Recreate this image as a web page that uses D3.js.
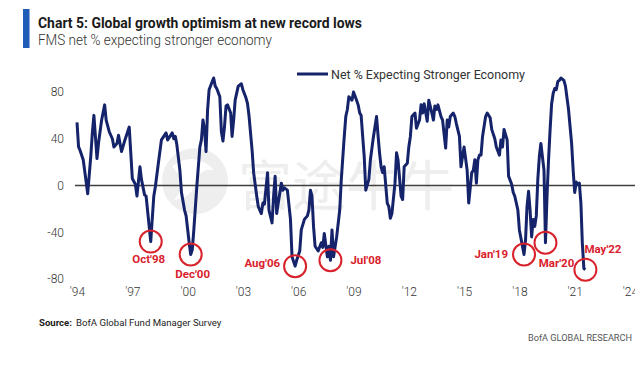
<!DOCTYPE html>
<html>
<head>
<meta charset="utf-8">
<script src="https://cdn.jsdelivr.net/npm/d3@7"></script>
<style>
  body { margin: 0; background: #fff; }
  svg { display: block; font-family: Roboto, "Open Sans", sans-serif; }
</style>
</head>
<body>
<div id="chart"></div>
<script>
// FMS net % expecting stronger economy (month, value)
var months = [
  "1994-10","1994-11","1994-12","1995-02","1995-03","1995-05","1995-07","1995-08","1995-09","1995-11","1995-12",
  "1996-02","1996-04","1996-05","1996-07","1996-09","1996-10","1996-12","1997-01","1997-03","1997-05","1997-07",
  "1997-08","1997-10","1997-12","1998-01","1998-03","1998-04","1998-06","1998-07","1998-10","1998-12","1999-01",
  "1999-03","1999-05","1999-08","1999-09","1999-12","2000-01","2000-02","2000-03","2000-05","2000-06","2000-08",
  "2000-09","2000-11","2000-12","2001-01","2001-02","2001-04","2001-06","2001-07","2001-08","2001-09","2001-10",
  "2001-11","2001-12","2002-02","2002-03","2002-04","2002-05","2002-07","2002-08","2002-09","2002-10","2002-11",
  "2002-12","2003-02","2003-03","2003-04","2003-05","2003-07","2003-09","2003-10","2003-12","2004-01","2004-02",
  "2004-04","2004-05","2004-07","2004-08","2004-10","2004-11","2004-12","2005-02","2005-03","2005-05","2005-06",
  "2005-07","2005-08","2005-09","2005-11","2005-12","2006-01","2006-03","2006-05","2006-06","2006-08","2006-09",
  "2006-11","2006-12","2007-02","2007-04","2007-05","2007-06","2007-07","2007-08","2007-09","2007-11","2008-01",
  "2008-02","2008-03","2008-05","2008-06","2008-07","2008-08","2008-09","2008-11","2009-01","2009-02","2009-04",
  "2009-05","2009-06","2009-07","2009-09","2009-10","2009-12","2010-01","2010-02","2010-03","2010-04","2010-05",
  "2010-06","2010-08","2010-09","2010-11","2011-01","2011-02","2011-03","2011-04","2011-05","2011-06","2011-08",
  "2011-09","2011-10","2011-11","2012-01","2012-02","2012-03","2012-05","2012-06","2012-07","2012-09","2012-10",
  "2012-11","2012-12","2013-02","2013-03","2013-05","2013-06","2013-07","2013-08","2013-10","2013-11","2014-01",
  "2014-02","2014-03","2014-04","2014-05","2014-07","2014-08","2014-10","2014-11","2014-12","2015-01","2015-03",
  "2015-04","2015-05","2015-07","2015-08","2015-09","2015-10","2015-12","2016-01","2016-03","2016-04","2016-05",
  "2016-06","2016-07","2016-08","2016-09","2016-10","2016-12","2017-01","2017-03","2017-04","2017-06","2017-07",
  "2017-09","2017-10","2017-11","2017-12","2018-02","2018-03","2018-05","2018-06","2018-07","2018-09","2018-10",
  "2018-12","2019-01","2019-02","2019-03","2019-04","2019-05","2019-06","2019-07","2019-08","2019-09","2019-10",
  "2019-11","2019-12","2020-02","2020-03","2020-04","2020-05","2020-06","2020-07","2020-08","2020-09","2020-10",
  "2020-11","2020-12","2021-01","2021-03","2021-04","2021-06","2021-08","2021-09","2021-10","2021-11","2021-12",
  "2022-01","2022-02","2022-03","2022-04","2022-05"
];
var netPct = [
  54,33,30,22,13,-7,25,45,60,23,36,
  56,69,56,46,40,33,36,43,29,38,46,
  50,6,1,-9,16,5,-8,-9,-48,-9,-1,
  19,39,45,39,45,40,42,35,13,-6,-21,
  -26,-49,-59,-55,-38,-1,33,39,56,48,29,
  65,82,89,92,85,83,76,46,38,50,68,
  69,62,42,56,73,85,87,82,75,70,59,
  30,11,-9,-18,-24,-15,-16,11,-21,-32,-9,
  8,-24,-15,2,-4,-2,-4,-29,-61,-69,-64,
  -56,-38,-29,-26,-21,-4,-9,-35,-52,-56,-49,
  -53,-41,-61,-52,-64,-38,-61,-44,-21,5,42,
  59,65,76,73,80,73,69,62,60,42,25,
  -4,5,22,42,59,42,28,16,11,16,-15,
  -18,-28,-24,2,28,22,-9,-12,16,19,33,
  42,59,62,49,56,69,62,70,55,73,62,
  56,68,65,69,59,56,32,56,50,59,62,
  59,53,42,16,25,33,13,-15,11,13,22,
  2,22,26,26,42,59,62,58,48,40,33,
  26,39,33,48,39,8,1,-6,-9,-21,-38,
  -52,-59,-46,-18,-5,-21,-44,-29,-35,-26,5,
  25,36,13,-49,-9,22,48,70,79,83,82,
  89,90,92,90,85,65,36,13,-6,3,1,
  2,-15,-49,-71,-72
];

var xTickYears = [1994, 1997, 2000, 2003, 2006, 2009, 2012, 2015, 2018, 2021, 2024];
var yTickValues = [80, 40, 0, -40, -80];

var calloutMonths = ["1998-10", "2000-12", "2006-08", "2008-07", "2019-01", "2020-03", "2022-05"];
var calloutLabels = ["Oct'98", "Dec'00", "Aug'06", "Jul'08", "Jan'19", "Mar'20", "May'22"];

var W = 635, H = 368;
var navy = "#15236b", red = "#d9212b";

var parseMonth = d3.timeParse("%Y-%m");
var series = months.map(function(m, i) { return { date: parseMonth(m), value: netPct[i] }; });

var svg = d3.select("#chart").append("svg")
    .attr("width", W)
    .attr("height", H);

// category-style axis: labels every 36 months from the first survey (Oct)
var x = d3.scaleTime()
    .domain([new Date(1994, 9, 1), new Date(2024, 9, 1)])
    .range([77, 630]);
var y = d3.scaleLinear()
    .domain([-80, 80])
    .range([279, 92]);

// header
svg.append("rect")
   .attr("x", 23).attr("y", 9)
   .attr("width", 6.5).attr("height", 39)
   .attr("fill", "#1f5cb8");
svg.append("text")
   .attr("x", 38).attr("y", 27.5)
   .attr("font-size", 15.5)
   .attr("font-weight", 700)
   .attr("fill", "#1a1a1a")
   .attr("textLength", 324)
   .attr("lengthAdjust", "spacingAndGlyphs")
   .text("Chart 5: Global growth optimism at new record lows");
svg.append("text")
   .attr("x", 38).attr("y", 45)
   .attr("font-size", 14)
   .attr("font-weight", 300)
   .attr("fill", "#333")
   .attr("textLength", 234)
   .attr("lengthAdjust", "spacingAndGlyphs")
   .text("FMS net % expecting stronger economy");

// watermark
var wm = svg.append("g").attr("class", "watermark");
wm.append("circle")
  .attr("cx", 195).attr("cy", 181).attr("r", 33)
  .attr("fill", "#eeeeee");
wm.append("path")
  .attr("d", "M172,166 Q195,150 214,170 Q200,168 196,182 Q192,198 174,200 Q186,186 180,176 Z")
  .attr("fill", "#fff");
wm.append("text")
  .attr("x", 238).attr("y", 206)
  .attr("font-family", "'Noto Sans CJK SC'")
  .attr("font-size", 54)
  .attr("fill", "#eeeeee")
  .text("富途牛牛");

// y axis labels
var yAxis = d3.axisLeft(y)
    .tickValues(yTickValues)
    .tickSize(0)
    .tickPadding(0)
    .tickFormat(function(d) { return d < 0 ? "-" + Math.abs(d) : d; });
var gy = svg.append("g")
    .attr("class", "y axis")
    .attr("transform", "translate(64,0)")
    .call(yAxis);
gy.select(".domain").remove();
gy.selectAll("text")
  .attr("font-family", "Roboto, sans-serif")
  .attr("font-size", 12)
  .attr("font-weight", 300)
  .attr("fill", "#333");

// x axis labels ('24 sits on the right edge, as in the source)
var xAxis = d3.axisBottom(x)
    .tickValues(xTickYears.map(function(yr) { return new Date(yr, 9, 1); }))
    .tickSize(0)
    .tickPadding(0)
    .tickFormat(function(d) { return "'" + String(d.getFullYear()).slice(2); });
var gx = svg.append("g")
    .attr("class", "x axis")
    .attr("transform", "translate(0,287)")
    .call(xAxis);
gx.select(".domain").remove();
gx.selectAll("text")
  .attr("font-family", "Roboto, sans-serif")
  .attr("font-size", 12)
  .attr("font-weight", 300)
  .attr("fill", "#333");

// zero line
svg.append("line")
   .attr("x1", 75).attr("x2", W)
   .attr("y1", y(0)).attr("y2", y(0))
   .attr("stroke", "#3f3f3f")
   .attr("stroke-width", 1.6);

// series
var line = d3.line()
    .x(function(d) { return x(d.date); })
    .y(function(d) { return y(d.value); });
svg.append("path")
   .datum(series)
   .attr("fill", "none")
   .attr("stroke", navy)
   .attr("stroke-width", 3)
   .attr("stroke-linejoin", "round")
   .attr("d", line);

// legend
svg.append("line")
   .attr("x1", 297).attr("x2", 328)
   .attr("y1", 74).attr("y2", 74)
   .attr("stroke", navy)
   .attr("stroke-width", 3);
svg.append("text")
   .attr("x", 331).attr("y", 78.5)
   .attr("font-size", 12)
   .attr("fill", "#333")
   .attr("textLength", 194)
   .attr("lengthAdjust", "spacingAndGlyphs")
   .text("Net % Expecting Stronger Economy");

// call-outs: label placement relative to the circled point
var calloutPlace = [
  { anchor: "middle", dx: -2, dy: 21 },
  { anchor: "middle", dx: 2, dy: 24 },
  { anchor: "end", dx: -15, dy: 0.5 },
  { anchor: "start", dx: 20, dy: 3.5 },
  { anchor: "end", dx: -16, dy: 4 },
  { anchor: "middle", dx: 11, dy: 24 },
  { anchor: "start", dx: -1, dy: -16.5 }
];
var callouts = calloutMonths.map(function(m, i) {
  var idx = months.indexOf(m);
  return { date: parseMonth(m), value: netPct[idx], label: calloutLabels[i], place: calloutPlace[i] };
});
var co = svg.append("g").attr("class", "callouts")
    .selectAll("g")
    .data(callouts)
    .enter()
    .append("g")
    .attr("transform", function(d) { return "translate(" + x(d.date) + "," + y(d.value) + ")"; });
co.append("circle")
  .attr("r", 11)
  .attr("fill", "none")
  .attr("stroke", red)
  .attr("stroke-width", 2);
co.append("text")
  .attr("x", function(d) { return d.place.dx; })
  .attr("y", function(d) { return d.place.dy; })
  .attr("text-anchor", function(d) { return d.place.anchor; })
  .attr("font-size", 11.5)
  .attr("font-weight", 700)
  .attr("fill", red)
  .text(function(d) { return d.label; });

// footer
var src = svg.append("text")
   .attr("x", 39).attr("y", 326)
   .attr("font-size", 9.6)
   .attr("fill", "#222");
src.append("tspan").attr("font-weight", 700).text("Source:");
src.append("tspan").attr("dx", 4).text("BofA Global Fund Manager Survey");
svg.append("text")
   .attr("x", 528).attr("y", 340.5)
   .attr("font-size", 9)
   .attr("fill", "#555")
   .attr("textLength", 104)
   .attr("lengthAdjust", "spacingAndGlyphs")
   .text("BofA GLOBAL RESEARCH");
</script>
</body>
</html>
